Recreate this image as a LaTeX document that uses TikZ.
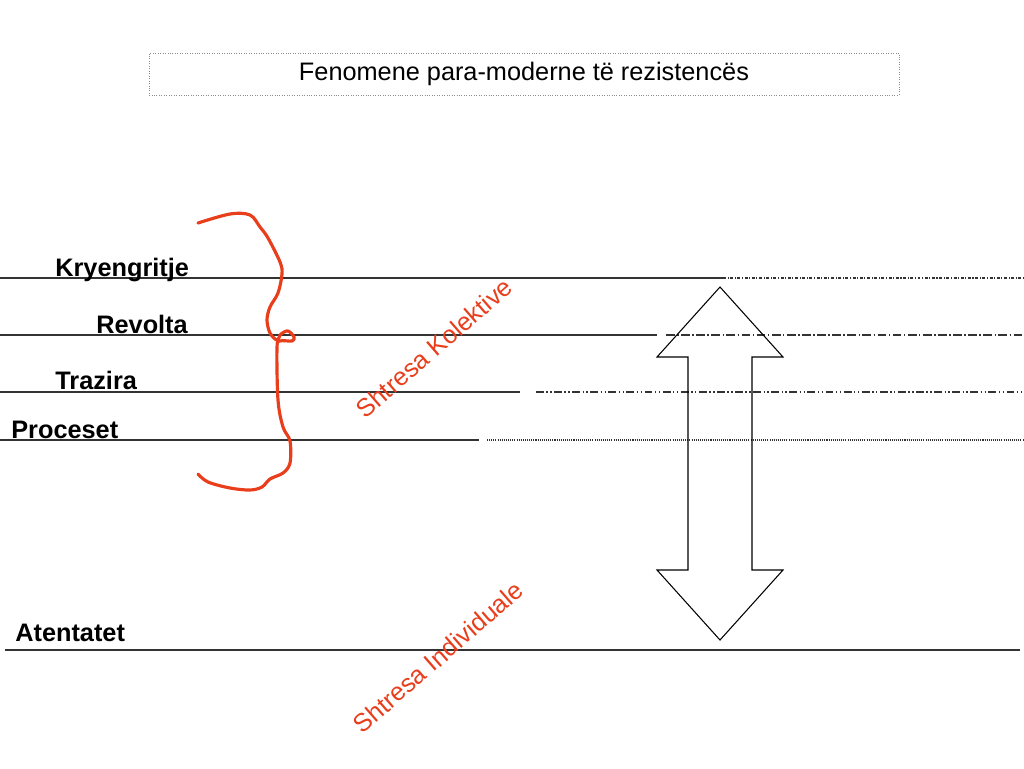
\documentclass[tikz,border=0pt]{standalone}
\usepackage{fontspec}
\setmainfont{Liberation Sans}
\usetikzlibrary{positioning}
\definecolor{penred}{RGB}{232,62,28}
\tikzset{font=\fontsize{14.4}{17}\selectfont}
\tikzset{lbl/.style={font=\fontsize{14.4}{17}\selectfont\bfseries, anchor=base west, inner sep=0pt}}
\tikzset{layer/.style={line width=0.6pt, black!80}}

\begin{document}
\begin{tikzpicture}[x=0.02cm,y=-0.02cm]
  \useasboundingbox (0,0) rectangle (1024,768);

  \node[draw=black!45, densely dotted, minimum width=15cm, minimum height=0.84cm] (title) at (524,74) {Fenomene para-moderne të rezistencës};

  % layers
  \draw[layer] (0,278)--(723,278);
  \draw[layer, dash pattern=on 1.7pt off 0.9pt on 0.6pt off 0.9pt] (723,278)--(1024,278);
  \draw[layer] (0,335)--(657,335);
  \draw[layer, dash pattern=on 5pt off 1.4pt on 0.8pt off 1.4pt] (666,335)--(1024,335);
  \draw[layer] (0,392)--(520,392);
  \draw[layer, dash pattern=on 4.5pt off 1.4pt on 0.8pt off 1.4pt on 0.8pt off 1.4pt] (536,392)--(1024,392);
  \draw[layer] (0,440)--(479,440);
  \draw[layer, dash pattern=on 0.6pt off 0.6pt] (487,440)--(1024,440);
  \draw[layer] (5,650)--(1020,650);

  \foreach \txt/\lx/\ly/\nm in {Kryengritje/55/276/kry, Revolta/96/333/rev, Trazira/55/389/tra, Proceset/11/438/pro, Atentatet/15/641/ate}{
               \node[lbl] (\nm) at (\lx,\ly) {\txt};
};

  % double arrow
  \draw[line width=0.6pt] (720,287)--(783,357)--(752,357)--(752,570)--(783,570)--(720,640)--(657,570)--(688,570)--(688,357)--(657,357)--cycle;

  % hand drawn brace
  \draw[penred, line width=1.8pt, line cap=round, line join=round] plot[smooth, tension=0.55] coordinates {(198,223) (230,214) (250,215) (260,227) (268,238) (280,262) (282,274) (278,293) (270,307) (267,320) (270,333) (277,340) (281,334) (288,331) (294,337) (292,341) (280,341) (277,348) (278,400) (283,427) (290,441) (290,463) (283,473) (270,479) (262,487) (250,490) (230,488) (208,482) (198,474)};

  \node[penred, rotate=41] (kol) at (434,348) {Shtresa Kolektive};
  \node[penred, rotate=41] (ind) at (438,657) {Shtresa Individuale};
\end{tikzpicture}
\end{document}
